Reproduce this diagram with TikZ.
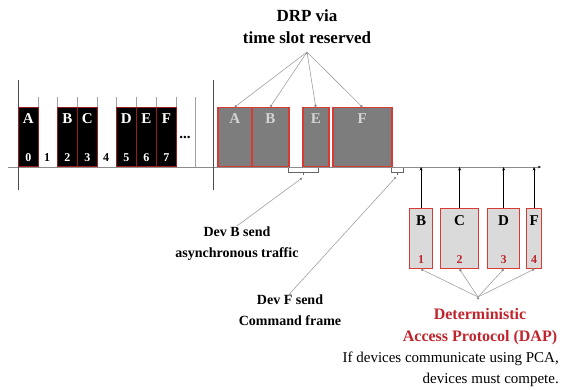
\documentclass[tikz,border=0pt]{standalone}
\usepackage{fontspec}
\setmainfont{Liberation Serif}
\usetikzlibrary{arrows.meta, positioning}

\definecolor{darkred}{HTML}{9B1C1C}
\definecolor{slotred}{HTML}{D83A34}
\definecolor{drpgray}{HTML}{7D7D7D}
\definecolor{dapgray}{HTML}{DADADA}
\definecolor{tagpale}{HTML}{D4D4D4}
\definecolor{dapred}{HTML}{C0242C}
\definecolor{linegray}{HTML}{A0A0A0}
\definecolor{axisgray}{HTML}{8C8C8C}

\begin{document}
\begin{tikzpicture}[x=1pt,y=-1pt,
  slot/.style={anchor=north west, minimum height=59pt, inner sep=0pt},
  devslot/.style={slot, draw=darkred, fill=black, line width=0.8pt, minimum width=20pt},
  drpslot/.style={slot, fill=drpgray, draw=slotred, line width=1.5pt},
  dapslot/.style={slot, draw=slotred, fill=dapgray, line width=1.2pt, minimum height=60pt},
  tag/.style={font=\bfseries\fontsize{15}{15}\selectfont, inner sep=0pt},
  num/.style={font=\bfseries\fontsize{12}{12}\selectfont, inner sep=0pt},
  note/.style={font=\bfseries\fontsize{14}{21}\selectfont, align=center, inner sep=1pt},
  pointer/.style={draw=linegray, line width=0.6pt, -{Circle[length=2.6pt, fill=black!80]}},
  tick/.style={draw=linegray, line width=0.6pt}]

\useasboundingbox (0,0) rectangle (565,390);

% time axis and superframe borders
  \foreach \x in {38,57,77,97,116,136,156,176,195}
    \draw[tick] (\x,97) -- (\x,167);
  \coordinate (axisend) at (541,167);
  \draw[draw=axisgray, line width=0.8pt, -{Stealth[length=3pt, width=2.5pt, black]}] (8,167) -- (axisend);
  \draw[draw=black!70, line width=1pt] (18,80) -- (18,190);
  \draw[draw=black!70, line width=1pt] (213,80) -- (213,190);

% beacon slots of the devices
  \foreach \x/\l/\n in {18/A/0, 57/B/2, 77/C/3, 116/D/5, 136/E/6, 156/F/7} {
    \node[devslot] (s\n) at (\x,107) {};
    \node[tag, text=white] at ([yshift=-12pt]s\n.north) {\l};
    \node[num, text=white] at ([yshift=9pt]s\n.south) {\n};
  }
  \node[num] (n1) at (47,158) {1};
  \node[num] (n4) at (106,158) {4};
  \node[tag] (dots) at (185,137) {...};

% reserved slots (DRP)
  \node[drpslot, minimum width=34pt] (gA) at (217,107) {};
  \node[drpslot, minimum width=37pt] (gB) at (251,107) {};
  \node[drpslot, minimum width=26pt] (gE) at (302,107) {};
  \node[drpslot, minimum width=59pt] (gF) at (332,107) {};
  \foreach \g in {A,B,E,F}
    \node[tag, text=tagpale] at ([yshift=-12pt]g\g.north) {\g};

  \node[note, font=\bfseries\fontsize{17}{22}\selectfont] (drp) at (307,27) {DRP via\\time slot reserved};
  \coordinate (drpfan) at (307,52);
  \path[pointer] (drpfan) edge (gA.north)
                          edge (gB.north)
                          edge (gE.north)
                          edge (gF.north);

% brackets under the axis
  \draw[draw=black!60, line width=0.6pt] (288,168) -- (288,172) -- (318,172) -- (318,168)
        (303,172) -- (303,175);
  \draw[draw=black!60, line width=0.6pt] (391,168) -- (391,172) -- (403,172) -- (403,168)
        (397,172) -- (397,175);
  \coordinate (brB) at (302,178);
  \coordinate (brF) at (396,177);

  \node[note] (devB) at (237,244) {Dev B send\\asynchronous traffic};
  \node[note] (devF) at (290,310) {Dev F send\\Command frame};
  \path[pointer] (devB.north) edge (brB)
                 (devF.north) edge (brF);

% deterministic access slots (DAP)
  \node[dapslot, minimum width=23pt] (rB) at (409,208) {};
  \node[dapslot, minimum width=38pt] (rC) at (440,208) {};
  \node[dapslot, minimum width=32pt] (rD) at (487,208) {};
  \node[dapslot, minimum width=15pt] (rF) at (526,208) {};
  \foreach \r/\n in {B/1,C/2,D/3,F/4} {
    \node[tag] at ([yshift=-13pt]r\r.north) {\r};
    \node[num, text=dapred] at ([yshift=10pt]r\r.south) {\n};
    \draw[line width=0.8pt, -{Stealth[length=3.5pt, width=3pt]}] (r\r.north) -- (r\r.north |- axisend);
  }

  \node[note, text=dapred, font=\bfseries\fontsize{16}{22}\selectfont] (dap) at (480,327)
       {Deterministic\\Access Protocol (DAP)};
  \coordinate (dapfan) at (478,297);
  \path[pointer] (dapfan) edge (rB.south)
                          edge (rC.south)
                          edge (rD.south)
                          edge (rF.south);

  \node[font=\fontsize{15}{21}\selectfont, align=right, anchor=east, inner sep=0pt] (pca) at (559,369)
       {If devices communicate using PCA,\\devices must compete.};

\end{tikzpicture}
\end{document}
